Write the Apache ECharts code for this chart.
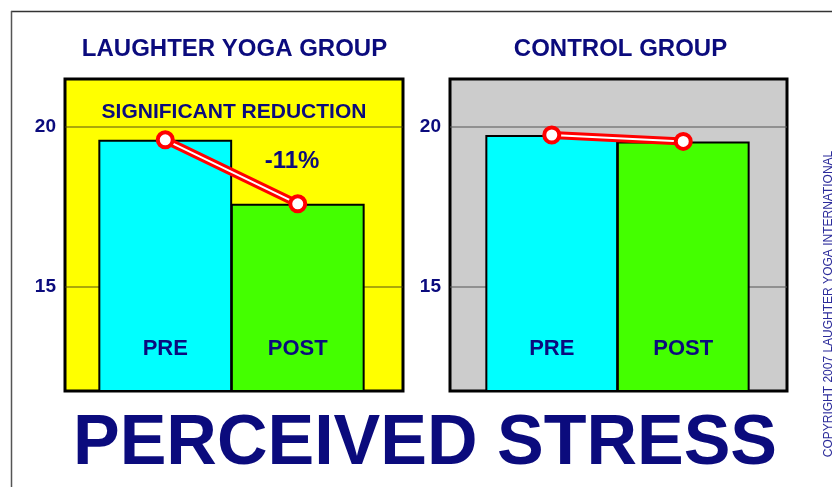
<!DOCTYPE html>
<html>
<head>
<meta charset="utf-8">
<script src="https://cdn.jsdelivr.net/npm/echarts@6/dist/echarts.min.js"></script>
<style>html,body{margin:0;padding:0;background:#fff}#c{width:832px;height:487px}</style>
</head>
<body>
<div id="c"></div>
<script>
// ---- data ----
const groupTitles = ['LAUGHTER YOGA GROUP', 'CONTROL GROUP'];
const categories = ['PRE', 'POST'];
const yogaValues = [19.6, 17.6];
const controlValues = [19.75, 19.55];
const yTicks = [15, 20];
const yMin = 11.75;
const yMax = 21.5;
const mainTitle = 'PERCEIVED STRESS';
const noteText = 'SIGNIFICANT REDUCTION';
const changeText = '-11%';
const copyrightText = 'COPYRIGHT 2007 LAUGHTER YOGA INTERNATIONAL';

// ---- styles ----
const NAVY = '#0b0b7d';
const FONT = '"Liberation Sans", Arial, sans-serif';
const barColors = ['#00ffff', '#44ff00'];

const chart = echarts.init(document.getElementById('c'), null, {renderer: 'canvas'});

const grids = [
  {left: 65, top: 79, width: 338, height: 312, show: true, backgroundColor: '#ffff00', borderColor: '#000', borderWidth: 3},
  {left: 99, top: 79, width: 265, height: 312},
  {left: 450, top: 79, width: 337, height: 312, show: true, backgroundColor: '#cccccc', borderColor: '#000', borderWidth: 3},
  {left: 486, top: 79, width: 263, height: 312}
];

function bgX(i) { return {type: 'category', gridIndex: i, data: [''], show: false}; }
function barX(i) {
  return {
    type: 'category', gridIndex: i, data: categories, boundaryGap: true, z: 10,
    axisLine: {show: false}, axisTick: {show: false},
    axisLabel: {inside: true, margin: 31, color: NAVY, fontSize: 22, fontWeight: 'bold', fontFamily: FONT}
  };
}
function bgY(i, lineColor) {
  return {
    type: 'value', gridIndex: i, min: yMin, max: yMax,
    axisLine: {show: false},
    axisTick: {show: false, customValues: yTicks},
    axisLabel: {customValues: yTicks, margin: 9, color: NAVY, fontSize: 19, fontWeight: 'bold', fontFamily: FONT},
    splitLine: {show: true, lineStyle: {color: lineColor, width: 1.5}}
  };
}
function barY(i) { return {type: 'value', gridIndex: i, min: yMin, max: yMax, show: false, splitLine: {show: false}}; }

function groupSeries(axisIdx, values) {
  return [
    {
      type: 'bar', xAxisIndex: axisIdx, yAxisIndex: axisIdx, data: values,
      barCategoryGap: '-1%',
      itemStyle: {color: p => barColors[p.dataIndex], borderColor: '#000', borderWidth: 2},
      z: 2
    },
    {
      type: 'line', xAxisIndex: axisIdx, yAxisIndex: axisIdx, data: values,
      symbol: 'none', lineStyle: {color: '#ff0000', width: 8}, z: 3
    },
    {
      type: 'line', xAxisIndex: axisIdx, yAxisIndex: axisIdx, data: values,
      symbol: 'circle', symbolSize: 15, showSymbol: true,
      lineStyle: {color: '#ffffff', width: 2},
      itemStyle: {color: '#ffffff', borderColor: '#ff0000', borderWidth: 4},
      z: 4
    }
  ];
}

const txt = (x, y, text, size, extra) => ({
  type: 'text', x: x, y: y,
  style: Object.assign({text: text, fill: NAVY, font: 'bold ' + size + 'px ' + FONT, align: 'center', verticalAlign: 'middle'}, extra || {})
});

chart.setOption({
  animation: false,
  backgroundColor: '#ffffff',
  grid: grids,
  xAxis: [bgX(0), barX(1), bgX(2), barX(3)],
  yAxis: [bgY(0, 'rgba(70,60,20,0.6)'), barY(1), bgY(2, 'rgba(90,90,90,0.7)'), barY(3)],
  series: [].concat(groupSeries(1, yogaValues), groupSeries(3, controlValues)),
  graphic: [
    {type: 'line', shape: {x1: 11, y1: 11.5, x2: 832, y2: 11.5}, style: {stroke: '#333', lineWidth: 1.5}},
    {type: 'line', shape: {x1: 11.5, y1: 11, x2: 11.5, y2: 487}, style: {stroke: '#555', lineWidth: 1.5}},
    txt(234.5, 49, groupTitles[0], 24),
    txt(620.5, 49, groupTitles[1], 24),
    txt(234, 112, noteText, 21),
    txt(292, 161, changeText, 24),
    txt(425, 445, mainTitle, 70),
    {
      type: 'text', x: 829, y: 304, rotation: Math.PI / 2,
      style: {text: copyrightText, fill: '#2b2b9a', font: '12px ' + FONT, align: 'center', verticalAlign: 'middle'}
    }
  ]
});
</script>
</body>
</html>
